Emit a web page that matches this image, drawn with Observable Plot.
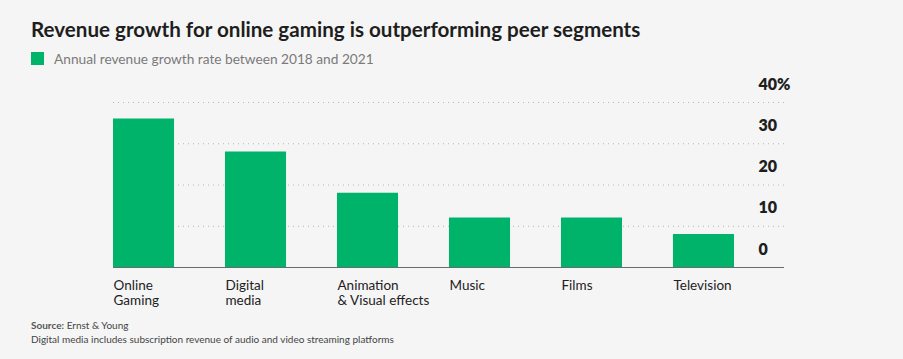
<!DOCTYPE html>
<html><head><meta charset="utf-8">
<script src="https://cdn.jsdelivr.net/npm/d3@7"></script>
<script src="https://cdn.jsdelivr.net/npm/@observablehq/plot@0.6"></script>
<style>
html,body{margin:0;padding:0;background:#f5f5f5;width:903px;height:359px;overflow:hidden;font-family:Lato,"Noto Sans",sans-serif;}
#title{position:absolute;left:31px;top:17px;font-size:20.6px;font-weight:700;color:#1e1e1e;white-space:nowrap;}
#legend{position:absolute;left:31px;top:50px;font-size:13.7px;color:#7a7a7a;display:flex;align-items:center;white-space:nowrap;}
#legend .sw{width:13px;height:13px;background:#00b36b;margin-right:10px;}
#chart{position:absolute;left:0;top:70px;}
#foot{position:absolute;left:31px;top:318px;font-size:10px;color:#444;line-height:14px;}
</style></head>
<body>
<div id="title">Revenue growth for online gaming is outperforming peer segments</div>
<div id="legend"><div class="sw"></div><span>Annual revenue growth rate between 2018 and 2021</span></div>
<div id="chart"></div>
<div id="foot"><div><span style="font-weight:700;color:#555">Source:</span> Ernst &amp; Young</div><div>Digital media includes subscription revenue of audio and video streaming platforms</div></div>
<script>
const categories = ["Online Gaming","Digital media","Animation & Visual effects","Music","Films","Television"];
const tickLabels = ["Online\nGaming","Digital\nmedia","Animation\n& Visual effects","Music","Films","Television"];
const values = [36, 28, 18, 12, 12, 8];
const yTicks = [0, 10, 20, 30, 40];
const yTickLabels = ["0", "10", "20", "30", "40%"];

const data = categories.map((c, i) => ({category: c, value: values[i]}));
const labelOf = new Map(categories.map((c, i) => [c, tickLabels[i]]));
const yLabelOf = new Map(yTicks.map((t, i) => [t, yTickLabels[i]]));

const chart = Plot.plot({
  width: 903,
  height: 245,
  marginTop: 32,
  marginBottom: 48,
  marginLeft: 113,
  marginRight: 119,
  style: {background: "transparent", fontFamily: "Lato, 'Noto Sans', sans-serif"},
  x: {domain: categories, range: [113, 734], paddingInner: 0.455, paddingOuter: 0, round: false, label: null},
  y: {domain: [0, 40], range: [197, 32], label: null},
  marks: [
    Plot.ruleY(yTicks.filter(d => d > 0), {stroke: "#b5b5b5", strokeDasharray: "1,4", strokeWidth: 1}),
    Plot.barY(data, {x: "category", y: "value", fill: "#00b36b"}),
    Plot.ruleY([0], {stroke: "#6a6a6a", strokeWidth: 1}),
    Plot.axisY(yTicks, {anchor: "right", label: null, tickSize: 0, tickPadding: 0, dx: -26, dy: -18, textAnchor: "start",
      tickFormat: d => yLabelOf.get(d), fontSize: 16, fontWeight: 800, fill: "#1e1e1e"}),
    Plot.axisX({tickSize: 0, tickPadding: 12, textAnchor: "start", dx: -30.5, lineHeight: 1.1,
      tickFormat: d => labelOf.get(d), fontSize: 13.5, fill: "#222", label: null})
  ]
});
document.getElementById("chart").appendChild(chart);
</script>
</body></html>
